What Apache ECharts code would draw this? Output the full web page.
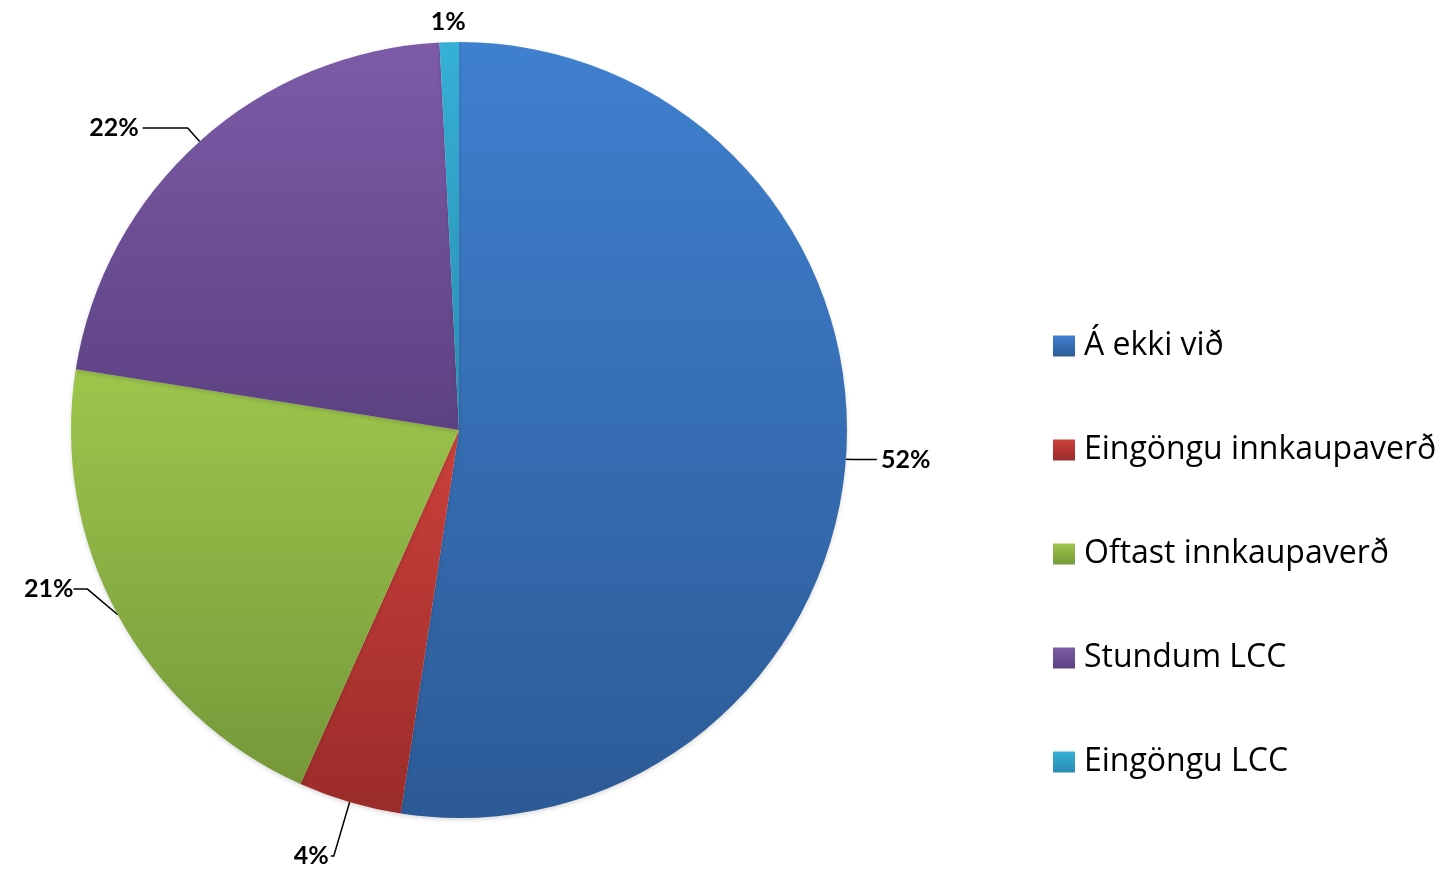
<!DOCTYPE html>
<html>
<head>
<meta charset="utf-8">
<script src="https://cdn.jsdelivr.net/npm/echarts@6/dist/echarts.min.js"></script>
<style>
html,body{margin:0;padding:0;background:#fff;}
#chart{width:1447px;height:873px;}
</style>
</head>
<body>
<div id="chart"></div>
<script>
const categories = ['Á ekki við', 'Eingöngu innkaupaverð', 'Oftast innkaupaverð', 'Stundum LCC', 'Eingöngu LCC'];
const values = [52.4, 4.3, 20.8, 21.7, 0.8];
const labels = ['52%', '4%', '21%', '22%', '1%'];
const colorTop = ['#3F80CF', '#CB403A', '#9DC64C', '#7D5BA8', '#36B0D6'];
const colorBottom = ['#2C5A96', '#9B2C2A', '#76983A', '#5C4182', '#2A8CB0'];
// [length, length2, distanceToLabelLine, showLine]
const lineCfg = [[5, 26, 4, true], [56, 3, 2, true], [30, 14, 4, true], [18, 45, 4, true], [20, 0, -17, false]];
// vertical shift of a label relative to where the pie layout puts it
const labelShiftY = [0, 0, -40, 0, 0];

function grad(i) {
  return new echarts.graphic.LinearGradient(0, 0, 0, 1, [
    { offset: 0, color: colorTop[i] },
    { offset: 1, color: colorBottom[i] }
  ]);
}

const chart = echarts.init(document.getElementById('chart'), null, { renderer: 'canvas' });
chart.setOption({
  backgroundColor: '#ffffff',
  animation: false,
  legend: {
    orient: 'vertical',
    left: 1053,
    top: 328,
    padding: 0,
    itemWidth: 22,
    itemHeight: 21,
    itemGap: 68,
    icon: 'rect',
    textStyle: { fontFamily: 'Open Sans', fontSize: 32, color: '#000', lineHeight: 36, padding: [0, 0, 0, 4] },
    data: categories
  },
  series: [{
    type: 'pie',
    center: [459, 430],
    radius: 388,
    startAngle: 90,
    clockwise: true,
    avoidLabelOverlap: false,
    label: {
      show: true,
      position: 'outside',
      fontFamily: 'Lato',
      fontWeight: 'bold',
      fontSize: 25,
      color: '#000',
      formatter: p => labels[p.dataIndex]
    },
    labelLayout: function (params) {
      const s = labelShiftY[params.dataIndex];
      if (!s) { return {}; }
      const r = params.labelRect;
      return { x: r.x, y: r.y + r.height / 2 + s, align: 'left', verticalAlign: 'middle' };
    },
    labelLine: { show: true, lineStyle: { color: '#000', width: 1.5 } },
    itemStyle: { borderWidth: 0, shadowBlur: 4, shadowColor: 'rgba(0,0,0,0.15)', shadowOffsetY: 2 },
    emphasis: { disabled: true },
    data: categories.map((name, i) => ({
      name: name,
      value: values[i],
      itemStyle: { color: grad(i) },
      label: { distanceToLabelLine: lineCfg[i][2] },
      labelLine: { length: lineCfg[i][0], length2: lineCfg[i][1], show: lineCfg[i][3] }
    }))
  }]
});
</script>
</body>
</html>
